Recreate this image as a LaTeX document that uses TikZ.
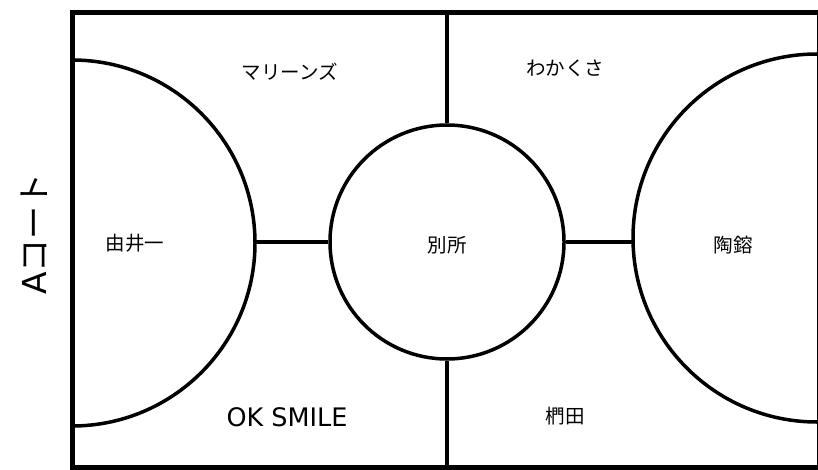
\documentclass[tikz,border=0pt]{standalone}
\usepackage{fontspec}
\setmainfont{DejaVu Sans}
\newfontfamily\jp{Noto Sans CJK JP}
\begin{document}
\begin{tikzpicture}[x=1pt,y=-1pt,
  lbl/.style={font=\jp\fontsize{19.5}{19.5}\selectfont, inner sep=0pt},
  frame/.style={line width=5pt},
  ring/.style={line width=3.5pt},
  link/.style={line width=4pt}]
\useasboundingbox (0,0) rectangle (818,470);
\clip (0,0) rectangle (818,470);
\fill[white] (0,0) rectangle (818,470);
% outer frame
\draw[frame] (72.5,12.5) rectangle (819,467);
% center circle
\node[circle, draw, ring, minimum size=234pt, inner sep=0pt] (c) at (447,242) {};
\coordinate (top) at (447,12.5);
\coordinate (bot) at (447,467);
\draw[frame, line width=4.5pt] (top) -- (c.north);
\draw[frame, line width=4.5pt] (c.south) -- (bot);
% half circles
\draw[ring] (72,60) arc[start angle=-90, end angle=90, radius=183];
\draw[ring] (817,54) arc[start angle=270, end angle=90, radius=184];
\coordinate (L) at (255,242);
\coordinate (R) at (633,242);
\draw[link] (L) -- (c.west);
\draw[link] (c.east) -- (R);
% labels
\node[lbl] (m) at (290,72) {マリーンズ};
\node[lbl] (w) at (565,68) {わかくさ};
\node[lbl] (y) at (135,243) {由井一};
\node[lbl] (b) at (447,245) {別所};
\node[lbl] (t) at (733,245) {陶鎔};
\node[font=\fontsize{25.5}{25.5}\selectfont, inner sep=0pt] (o) at (287,417) {OK SMILE};
\node[lbl] (k) at (565,416) {椚田};
\node[rotate=90, inner sep=0pt, font=\fontsize{33}{33}\selectfont] (a) at (34,234) {A{\jp コート}};
\end{tikzpicture}
\end{document}
